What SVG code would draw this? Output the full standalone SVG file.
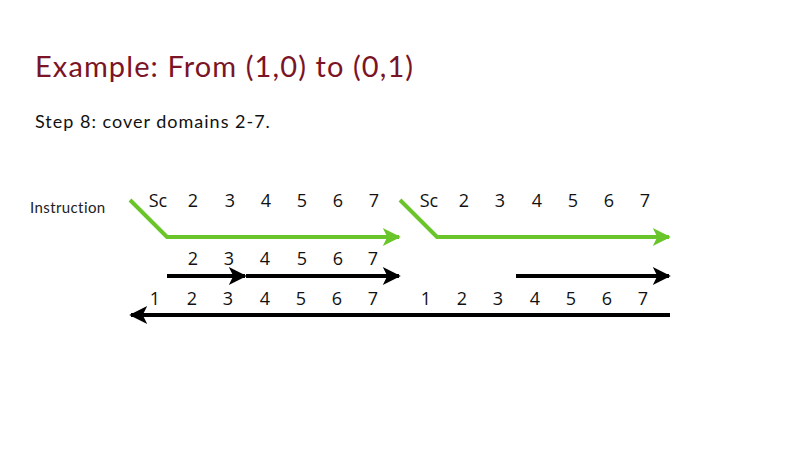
<svg xmlns="http://www.w3.org/2000/svg" width="800" height="450" viewBox="0 0 800 450">
<defs>
<marker id="ag" viewBox="0 0 10 10" refX="9" refY="5" markerWidth="5" markerHeight="4.5" markerUnits="strokeWidth" orient="auto"><path d="M0,0 L10,5 L0,10 L2.5,5 Z" fill="#6ac52a"/></marker>
<marker id="ab" viewBox="0 0 10 10" refX="9" refY="5" markerWidth="5.5" markerHeight="4.5" markerUnits="strokeWidth" orient="auto"><path d="M0,0 L10,5 L0,10 L2.5,5 Z" fill="#000"/></marker>
</defs>
<style>
.t{font-family:"Lato","Liberation Sans",sans-serif}
.n{font-family:"Open Sans","Noto Sans",sans-serif;font-size:18px;fill:#111;text-anchor:middle}
.g{fill:none;stroke:#6ac52a;stroke-width:4;marker-end:url(#ag)}
.b{fill:none;stroke:#000;stroke-width:4;marker-end:url(#ab)}
</style>
<rect width="800" height="450" fill="#fff"/>
<text class="t" x="35" y="77" font-size="29" letter-spacing="1.1" fill="#7a1426">Example: From (1,0) to (0,1)</text>
<text class="t" x="35" y="128" font-size="18" letter-spacing="1" fill="#111">Step 8: cover domains 2-7.</text>
<text class="t" x="30" y="213" font-size="15" letter-spacing="0.4" fill="#222">Instruction</text>
<g id="connectors">
<path class="g" d="M130,200 L167,237 L399,237"/>
<path class="g" d="M400,200 L437,237 L669,237"/>
<path class="b" d="M167,276 L245,276"/>
<path class="b" d="M246,276 L399,276"/>
<path class="b" d="M516,276 L669,276"/>
<path class="b" d="M670,315 L131,315"/>
</g>
<g id="row1" class="n">
<text x="158" y="207">Sc</text><text x="193" y="207">2</text><text x="230" y="207">3</text><text x="266" y="207">4</text><text x="302" y="207">5</text><text x="338" y="207">6</text><text x="374" y="207">7</text>
<text x="429" y="207">Sc</text><text x="464" y="207">2</text><text x="500" y="207">3</text><text x="537" y="207">4</text><text x="573" y="207">5</text><text x="609" y="207">6</text><text x="645" y="207">7</text>
</g>
<g id="row2" class="n">
<text x="193" y="265">2</text><text x="229" y="265">3</text><text x="265" y="265">4</text><text x="302" y="265">5</text><text x="338" y="265">6</text><text x="373" y="265">7</text>
</g>
<g id="row3" class="n">
<text x="155" y="305">1</text><text x="192" y="305">2</text><text x="228" y="305">3</text><text x="265" y="305">4</text><text x="301" y="305">5</text><text x="337" y="305">6</text><text x="373" y="305">7</text>
<text x="426" y="305">1</text><text x="462" y="305">2</text><text x="498" y="305">3</text><text x="535" y="305">4</text><text x="571" y="305">5</text><text x="607" y="305">6</text><text x="643" y="305">7</text>
</g>
</svg>
